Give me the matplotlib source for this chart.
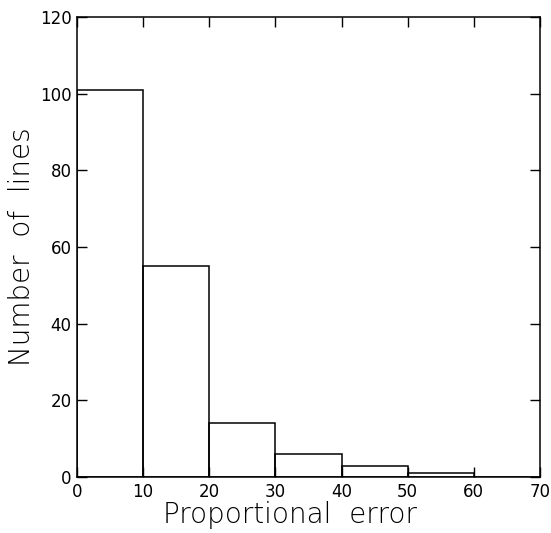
import matplotlib.pyplot as plt
import numpy as np

# histogram of the proportional error per line
bin_edges = [0, 10, 20, 30, 40, 50, 60, 70]
counts = [101, 55, 14, 6, 3, 1, 0]

fig = plt.figure(figsize=(5.51, 5.33), dpi=100)
ax = fig.add_axes([77 / 551, 56 / 533, 463 / 551, 460 / 533])

edges = np.array(bin_edges)
ax.bar(edges[:-1], counts, width=np.diff(edges), align='edge',
       fill=False, edgecolor='black', linewidth=1.1)

ax.set_xlim(0, 70)
ax.set_ylim(0, 120)
ax.set_xticks(np.arange(0, 71, 10))
ax.set_yticks(np.arange(0, 121, 20))
ax.tick_params(direction='in', length=7, width=1.0, top=True, right=True,
               labelsize=12, pad=4)
for s in ax.spines.values():
    s.set_linewidth(1.1)

ax.set_xlabel('Proportional  error', fontsize=20, fontweight='light', labelpad=1)
ax.set_ylabel('Number  of  lines', fontsize=20, fontweight='light', labelpad=3)
# x label sits a little left of centre
ax.xaxis.set_label_coords(0.46, -0.052, transform=ax.transAxes)
ax.xaxis.label.set_va('top')

fig.savefig('out.png', dpi=100)
